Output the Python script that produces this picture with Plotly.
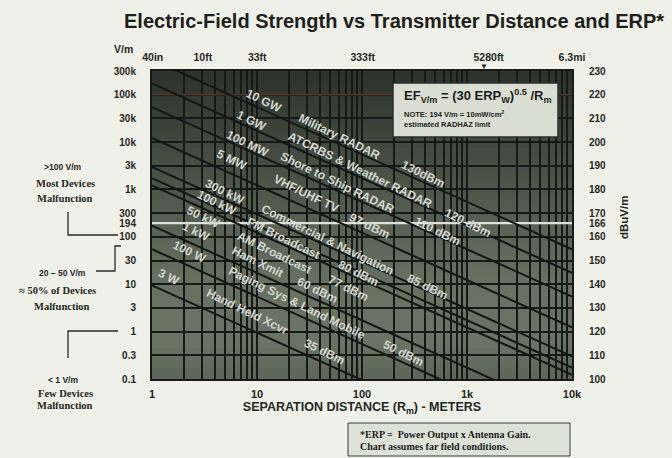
import numpy as np
import plotly.graph_objects as go

# ---------------- data ----------------
line_names = ["10 GW", "1 GW", "100 MW", "5 MW", "300 kW", "100 kW", "50 kW", "1 kW", "100 W", "3 W"]
dist_ends = [1, 10000]                       # metres
field_at_1m = [547700, 173200, 54770, 12250, 3000, 1732, 1225, 173.2, 54.8, 9.49]      # V/m
field_at_10km = [54.77, 17.32, 5.477, 1.225, 0.300, 0.1732, 0.1225, 0.01732, 0.00548, 0.000949]

x_tick_vals = [1, 10, 100, 1000, 10000]
x_tick_text = ["1", "10", "100", "1k", "10k"]
top_tick_vals = [1.016, 3.048, 10.06, 101.5, 1609, 10000]
top_tick_text = ["40in", "10ft", "33ft", "333ft", "5280ft", "6.3mi"]
vm_tick_vals = [0.1, 0.316, 1, 3.16, 10, 31.6, 100, 194, 316, 1000, 3160, 10000, 31600, 100000, 316000]
vm_tick_text = ["0.1", "0.3", "1", "3", "10", "30", "100", "194", "300", "1k", "3k", "10k", "30k", "100k", "300k"]
db_tick_text = ["100", "110", "120", "130", "140", "150", "160", "166", "170", "180", "190", "200", "210", "220", "230"]
radhaz_limit = 194  # V/m
red_line_level = 100000  # V/m
y_range_log = [-1, 5.5]

# line labels: text, distance (m), field (V/m)
label_text = ["10 GW", "Military RADAR", "130dBm",
              "1 GW", "ATCRBS & Weather RADAR", "120 dBm",
              "100 MW", "Shore to Ship RADAR", "110 dBm",
              "5 MW", "VHF/UHF TV", "97 dBm",
              "300 kW", "Commercial & Navigation", "85 dBm",
              "100 kW", "FM Broadcast", "80 dBm",
              "50 kW", "AM Broadcast", "77 dBm",
              "1 kW", "Ham Xmit", "60 dBm",
              "100 W", "Paging Sys & Land Mobile", "50 dBm",
              "3 W", "Hand Held Xcvr", "35 dBm"]
label_R = [11.7, 61.7, 381,
           8.96, 95.7, 1023,
           8.2, 59, 518,
           5.78, 29.9, 119,
           4.96, 47.4, 425,
           4.16, 17.7, 91.6,
           3.06, 14.8, 73.6,
           2.68, 10.2, 37.3,
           2.3, 24, 246,
           1.45, 8.2, 44.4]
label_E = [74700, 13000, 2150,
           28300, 2620, 199,
           9250, 1391, 135,
           4250, 815, 172,
           899, 87.3, 8.9,
           527, 96.2, 17.6,
           267, 46.4, 8.48,
           129, 30, 7.69,
           48.7, 4.09, 0.36,
           14.5, 2.64, 0.379]

# ---------------- layout helpers ----------------
W, H = 672, 458
L, R, T, B = 152, 572, 71, 379


def fx(px):
    return (px - L) / (R - L)


def fy(py):
    return (B - py) / (B - T)


SANS = "Liberation Sans, Arial, sans-serif"
SERIF = "Liberation Serif, Times New Roman, serif"
TXT = "#262824"

fig = go.Figure()

# reference lines (drawn first so the field lines cross over them)
fig.add_trace(go.Scatter(x=dist_ends, y=[red_line_level, red_line_level], mode="lines",
                         line=dict(color="#53302a", width=1.5), hoverinfo="skip", showlegend=False))
fig.add_trace(go.Scatter(x=dist_ends, y=[radhaz_limit, radhaz_limit], mode="lines",
                         line=dict(color="#dfe3db", width=2.2), hoverinfo="skip", showlegend=False))

for name, e1, e2 in zip(line_names, field_at_1m, field_at_10km):
    fig.add_trace(go.Scatter(x=dist_ends, y=[e1, e2], mode="lines", name=name,
                             line=dict(color="#141613", width=2), hoverinfo="skip",
                             showlegend=False))

# invisible traces to activate secondary axes
fig.add_trace(go.Scatter(x=[1], y=[1], xaxis="x2", yaxis="y", mode="markers",
                         marker=dict(opacity=0), showlegend=False, hoverinfo="skip"))
fig.add_trace(go.Scatter(x=[1], y=[1], xaxis="x", yaxis="y2", mode="markers",
                         marker=dict(opacity=0), showlegend=False, hoverinfo="skip"))

minor_x = [m * 10 ** d for d in range(4) for m in range(2, 10)]
grid_col = "#161915"

fig.update_layout(
    width=W, height=H,
    margin=dict(l=L, r=W - R, t=T, b=H - B),
    paper_bgcolor="#eff0e7",
    plot_bgcolor="#555d52",
    showlegend=False,
    xaxis=dict(type="log", range=[0, 4], tickvals=x_tick_vals, ticktext=x_tick_text,
               showgrid=True, gridcolor=grid_col, gridwidth=1.5,
               minor=dict(tickvals=minor_x, showgrid=True, gridcolor=grid_col, gridwidth=1.5, ticks=""),
               showline=True, mirror=True, linecolor="#181a17", linewidth=2,
               ticks="", ticklabelstandoff=4,
               tickfont=dict(family=SANS, size=11, color=TXT, weight="bold"),
               title=dict(text="<b>SEPARATION DISTANCE (R<sub>m</sub>) - METERS</b>",
                          font=dict(family=SANS, size=12.5, color=TXT), standoff=2),
               zeroline=False),
    xaxis2=dict(type="log", range=[0, 4], overlaying="x", side="top",
                tickvals=top_tick_vals, ticktext=top_tick_text, showgrid=False,
                ticks="", ticklabelstandoff=7,
                tickfont=dict(family=SANS, size=10.5, color=TXT, weight="bold"),
                zeroline=False),
    yaxis=dict(type="log", range=y_range_log, tickvals=vm_tick_vals, ticktext=vm_tick_text,
               showgrid=True, gridcolor=grid_col, gridwidth=1.5,
               showline=True, mirror=True, linecolor="#181a17", linewidth=2,
               ticks="", ticklabelstandoff=12,
               tickfont=dict(family=SANS, size=10, color=TXT, weight="bold"),
               zeroline=False),
    yaxis2=dict(type="log", range=y_range_log, overlaying="y", side="right",
                tickvals=vm_tick_vals, ticktext=db_tick_text, showgrid=False,
                ticks="", ticklabelstandoff=16,
                tickfont=dict(family=SANS, size=10, color=TXT, weight="bold"),
                zeroline=False),
)

shapes = []
# background gradient (dark top -> lighter lower region)
stops = [(0.0, (92, 102, 88)), (0.12, (106, 116, 100)), (0.3, (104, 114, 98)),
         (0.5, (88, 97, 83)), (0.75, (66, 74, 63)), (1.0, (44, 50, 43))]
nb = 60
for i in range(nb):
    y0 = i / nb
    y1 = (i + 1) / nb
    ym = (y0 + y1) / 2
    for (a, ca), (b, cb) in zip(stops[:-1], stops[1:]):
        if a <= ym <= b:
            t = (ym - a) / (b - a)
            c = tuple(int(round(ca[k] + (cb[k] - ca[k]) * t)) for k in range(3))
            break
    shapes.append(dict(type="rect", xref="paper", yref="paper", x0=0, x1=1, y0=y0, y1=y1 + 0.002,
                       fillcolor="rgb(%d,%d,%d)" % c, line=dict(width=0), layer="below"))

# EF formula box
shapes.append(dict(type="rect", xref="paper", yref="paper", x0=fx(393), x1=fx(558), y0=fy(137), y1=fy(83),
                   fillcolor="#d9ddd2", line=dict(color="#2b2d29", width=1.5), layer="above"))
# footnote box
shapes.append(dict(type="rect", xref="paper", yref="paper", x0=fx(348), x1=fx(570), y0=fy(456), y1=fy(423),
                   fillcolor="#dde1d6", line=dict(color="#3a3c37", width=1)))


def path(pts):
    s = "M %f,%f" % (fx(pts[0][0]), fy(pts[0][1]))
    for p in pts[1:]:
        s += " L %f,%f" % (fx(p[0]), fy(p[1]))
    return s


for pts in [[(68, 212), (68, 235), (118, 235)],
            [(96, 271), (115, 271), (115, 246), (121, 246)],
            [(68, 358), (68, 331), (118, 331)]]:
    shapes.append(dict(type="path", xref="paper", yref="paper", path=path(pts),
                       line=dict(color="#2a2a2a", width=1.3)))

fig.update_layout(shapes=shapes)

ann = []
# line labels (annotation coordinates on log axes are log10 values)
for txt, r, e in zip(label_text, label_R, label_E):
    ann.append(dict(x=np.log10(r), y=np.log10(e), xref="x", yref="y", text="<b>%s</b>" % txt,
                    showarrow=False, textangle=26,
                    font=dict(family=SANS, size=12, color="#d3d7cf")))


def pa(px, py, text, size, family=SANS, color=TXT, xanchor="center", angle=0):
    ann.append(dict(x=fx(px), y=fy(py), xref="paper", yref="paper", text=text, showarrow=False,
                    xanchor=xanchor, yanchor="middle", textangle=angle,
                    font=dict(family=family, size=size, color=color)))


pa(394, 21, "<b>Electric-Field Strength vs Transmitter Distance and ERP*</b>", 20, color="#1e201c")
pa(123, 49, "<b>V/m</b>", 10.5)
pa(624, 218, "<b>dBuV/m</b>", 11.5, angle=-90)
pa(484, 66, "▼", 8, color="#1e201c")

pa(402, 96, "<b>EF<sub>V/m</sub> = (30 ERP<sub>W</sub>)<sup>0.5</sup> /R<sub>m</sub></b>", 13,
   color="#1c1d1a", xanchor="left")
pa(402, 114, "<b>NOTE: 194 V/m = 10mW/cm<sup>2</sup></b>", 7.5, color="#1c1d1a", xanchor="left")
pa(402, 124, "<b>estimated RADHAZ limit</b>", 7.5, color="#1c1d1a", xanchor="left")

pa(358, 434, "<b>*ERP =  Power Output x Antenna Gain.</b>", 10, family=SERIF, color="#1c1d1a", xanchor="left")
pa(358, 446, "<b>Chart assumes far field conditions.</b>", 10, family=SERIF, color="#1c1d1a", xanchor="left")

pa(63, 167, "<b>>100 V/m</b>", 8.5)
pa(65, 183, "<b>Most Devices</b>", 10.5, family=SERIF)
pa(65, 198, "<b>Malfunction</b>", 10.5, family=SERIF)
pa(62, 273, "<b>20 – 50 V/m</b>", 8.5)
pa(57, 290, "<b>≈ 50% of Devices</b>", 10.5, family=SERIF)
pa(62, 306, "<b>Malfunction</b>", 10.5, family=SERIF)
pa(63, 380, "<b>< 1 V/m</b>", 8.5)
pa(65, 393, "<b>Few Devices</b>", 10.5, family=SERIF)
pa(65, 406, "<b>Malfunction</b>", 10.5, family=SERIF)

fig.update_layout(annotations=ann)

fig.write_html("out.html", config={"displayModeBar": False},
               post_script="document.body.style.margin='0';")
